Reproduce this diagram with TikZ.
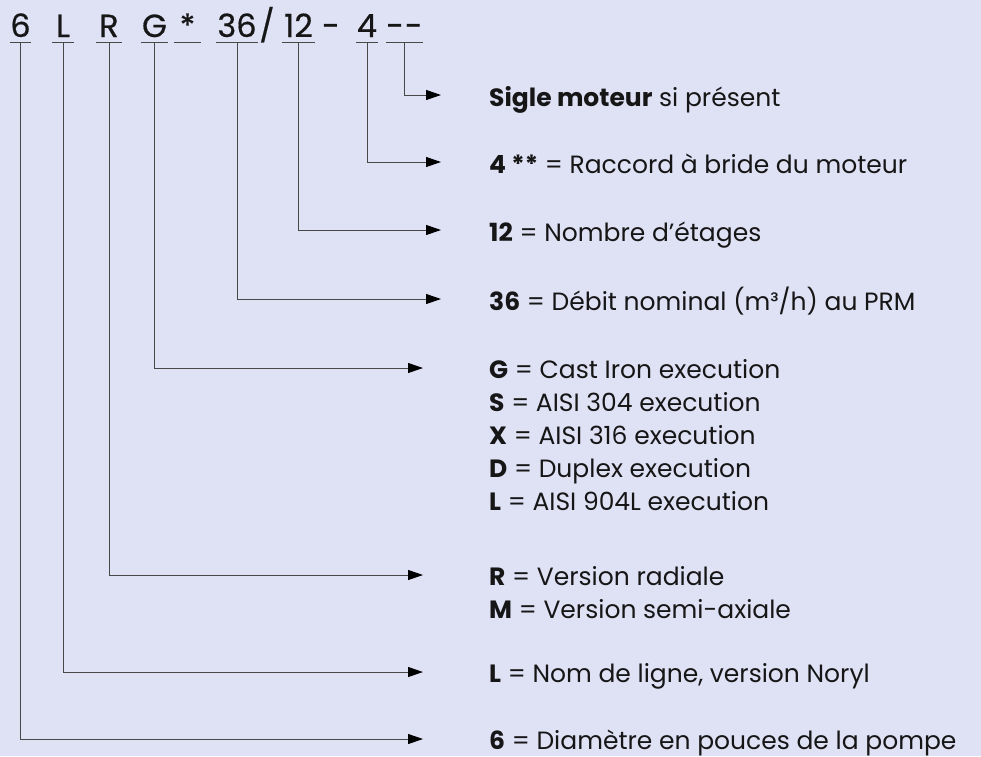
\documentclass[tikz,border=0pt]{standalone}
\usepackage{fontspec}
\setmainfont{Poppins}
\newfontfamily\codefont[FakeBold=0.5]{Poppins}
\usetikzlibrary{arrows.meta,positioning,calc}
\definecolor{bgcol}{RGB}{223,225,245}
\definecolor{inkcol}{RGB}{22,22,22}
\definecolor{linecol}{RGB}{72,72,72}

\begin{document}
\begin{tikzpicture}[x=1pt,y=-1pt,
    code/.style={inner sep=0pt, anchor=base, font=\codefont\fontsize{32}{34}\selectfont, text=inkcol},
    desc/.style={inner sep=0pt, anchor=base west, font=\fontsize{25}{33}\selectfont, text=inkcol},
    uline/.style={draw=linecol, line width=1pt},
    link/.style={draw=linecol, line width=1pt, -{Triangle[length=15pt,width=10pt,color=black]}}]
  \fill[bgcol] (0,0) rectangle (981,756);
  \useasboundingbox (0,0) rectangle (981,756);

  % code letters with their underlines
  \foreach \n/\x/\w/\t in {6/20.5/21/6, L/63/22/L, R/109/26/R, G/154.5/27/G, st/187.5/27/{*},
      36/237/42/36, 12/298.5/33/12, 4/367/22/4, m/404.5/25/{-\hspace{1pt}-}} {
    \node[code, minimum width=\w pt] (c\n) at (\x,37) {\t};
    \draw[uline] ([yshift=-5pt]c\n.base west) -- ([yshift=-5pt]c\n.base east);
  }
  \node[code] (slash) at (267,37) {/};
  \node[code] (dash) at (331,37) {-};

  % descriptions
  \node[desc] (dm) at (489,106) {\textbf{Sigle moteur} si présent};
  \node[desc] (d4) at (489,173) {\textbf{4 **} = Raccord à bride du moteur};
  \node[desc] (d12) at (489,241) {\textbf{12} = Nombre d’étages};
  \node[desc] (d36) at (489,310) {\textbf{36} = Débit nominal (m³/h) au PRM};
  \node[desc] (dG) at (489,378) {\begin{tabular}[t]{@{}l@{}}
      \textbf{G} = Cast Iron execution\\
      \textbf{S} = AISI 304 execution\\
      \textbf{X} = AISI 316 execution\\
      \textbf{D} = Duplex execution\\
      \textbf{L} = AISI 904L execution
    \end{tabular}};
  \node[desc] (dR) at (489,585) {\begin{tabular}[t]{@{}l@{}}
      \textbf{R} = Version radiale\\
      \textbf{M} = Version semi-axiale
    \end{tabular}};
  \node[desc] (dL) at (489,682) {\textbf{L} = Nom de ligne, version Noryl};
  \node[desc] (d6) at (489,749) {\textbf{6} = Diamètre en pouces de la pompe};

  % connectors
  \foreach \n in {m,4,12,36}
    \draw[link] ([yshift=-5pt]c\n.base) |- ([shift={(-48pt,11pt)}]d\n.base west);
  \foreach \n in {G,R,L,6}
    \draw[link] ([yshift=-5pt]c\n.base) |- ([shift={(-66pt,10pt)}]d\n.base west);
\end{tikzpicture}
\end{document}
